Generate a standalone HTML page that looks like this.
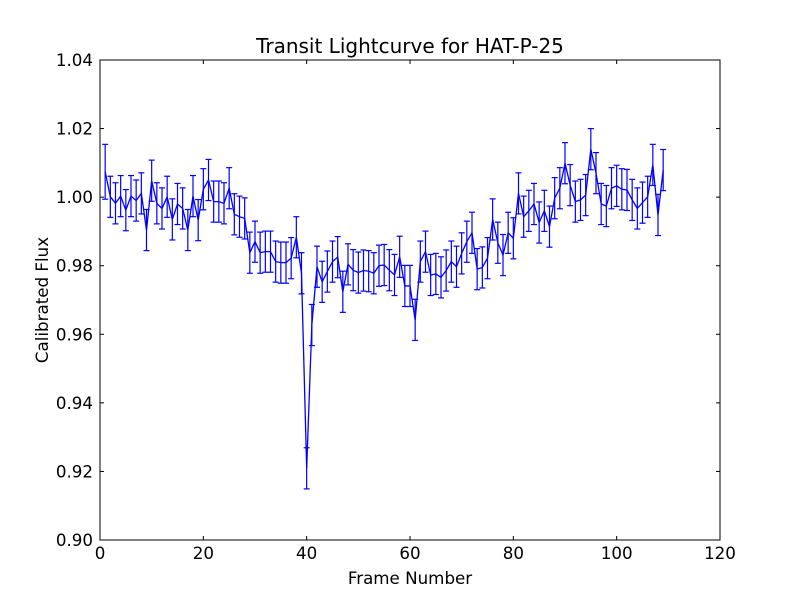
<!DOCTYPE html>
<html><head><meta charset="utf-8"><style>
html,body{margin:0;padding:0;background:#fff;}
svg{display:block;font-family:"DejaVu Sans","Liberation Sans",sans-serif;}
</style></head><body>
<svg id="chart" width="800" height="600" viewBox="0 0 800 600" xmlns="http://www.w3.org/2000/svg">
<rect x="0" y="0" width="800" height="600" fill="#fff"/>
<text x="410" y="53" font-size="20" text-anchor="middle">Transit Lightcurve for HAT-P-25</text>
<text x="410" y="584" font-size="16.7" text-anchor="middle">Frame Number</text>
<text x="48" y="300" font-size="16.7" text-anchor="middle" transform="rotate(-90 48 300)">Calibrated Flux</text>
<g id="ticks"></g>
<g id="series"></g>
<rect x="100" y="60" width="620" height="480" fill="none" stroke="#000" stroke-width="1"/>
</svg>
<script>
const frames = [];
for (let i = 1; i <= 109; i++) frames.push(i);
const flux = [1.0074,1.0001,0.9982,1.0003,0.9962,1.0003,0.9990,1.0011,0.9904,1.0048,
0.9982,0.9967,1.0001,0.9935,0.9980,0.9967,0.9904,1.0003,0.9933,1.0023,
1.0050,0.9987,0.9987,0.9982,1.0026,0.9950,0.9943,0.9938,0.9838,0.9870,
0.9838,0.9841,0.9841,0.9812,0.9809,0.9809,0.9822,0.9883,0.9778,0.9209,
0.9627,0.9797,0.9753,0.9783,0.9812,0.9825,0.9724,0.9804,0.9787,0.9780,
0.9786,0.9784,0.9778,0.9800,0.9802,0.9787,0.9773,0.9826,0.9741,0.9741,
0.9642,0.9812,0.9841,0.9773,0.9776,0.9766,0.9786,0.9812,0.9797,0.9836,
0.9870,0.9896,0.9790,0.9795,0.9822,0.9935,0.9867,0.9831,0.9896,0.9880,
1.0011,0.9943,0.9960,0.9980,0.9926,0.9960,0.9914,0.9997,1.0026,1.0099,
1.0035,0.9987,0.9992,1.0006,1.0140,1.0070,0.9980,0.9974,1.0026,1.0033,
1.0023,1.0021,0.9992,0.9967,0.9984,1.0001,1.0094,0.9948,1.0079];
const errs = flux.map((v,i)=> i===0 ? 0.008 : 0.006);
const xTicks = [0,20,40,60,80,100,120];
const yTicks = [0.90,0.92,0.94,0.96,0.98,1.00,1.02,1.04];
const yTickLabels = ["0.90","0.92","0.94","0.96","0.98","1.00","1.02","1.04"];

const X0=100,X1=720,Y0=540,Y1=60,XMIN=0,XMAX=120,YMIN=0.90,YMAX=1.04;
const sx = v => X0 + (v-XMIN)/(XMAX-XMIN)*(X1-X0);
const sy = v => Y0 - (v-YMIN)/(YMAX-YMIN)*(Y0-Y1);
const NS="http://www.w3.org/2000/svg";
function mk(tag, attrs, parent){const e=document.createElementNS(NS,tag);for(const k in attrs)e.setAttribute(k,attrs[k]);parent.appendChild(e);return e;}
const tg=document.getElementById('ticks'), sg=document.getElementById('series');

xTicks.forEach(t=>{
  const x=sx(t);
  const a=mk('line',{x1:x,x2:x,y1:540,y2:536,stroke:'#000'},tg);
  
  
  const b=mk('line',{x1:x,x2:x,y1:60,y2:64,stroke:'#000'},tg);
  
  
  const l=mk('text',{x:x,y:559,'font-size':16.7,'text-anchor':'middle'},tg);
  l.textContent=String(t);
  
  
});
yTicks.forEach((t,i)=>{
  const y=sy(t);
  const a=mk('line',{x1:100,x2:104,y1:y,y2:y,stroke:'#000'},tg);
  
  
  const b=mk('line',{x1:716,x2:720,y1:y,y2:y,stroke:'#000'},tg);
  
  
  const l=mk('text',{x:93,y:y+6,'font-size':16.7,'text-anchor':'end'},tg);
  l.textContent=yTickLabels[i];
  
  
});

frames.forEach((f,i)=>{
  const x=sx(f), yt=sy(flux[i]+errs[i]), yb=sy(flux[i]-errs[i]);
  const g=mk('g',{stroke:'#0000ff','stroke-width':1.2},sg);
  
  
  mk('line',{x1:x,x2:x,y1:yt,y2:yb},g);
  mk('line',{x1:x-3,x2:x+3,y1:yt,y2:yt},g);
  mk('line',{x1:x-3,x2:x+3,y1:yb,y2:yb},g);
});
const pts=frames.map((f,i)=>sx(f).toFixed(2)+','+sy(flux[i]).toFixed(2)).join(' ');
const pl=mk('polyline',{points:pts,fill:'none',stroke:'#0000ff','stroke-width':1.3},sg);


</script>
</body></html>
